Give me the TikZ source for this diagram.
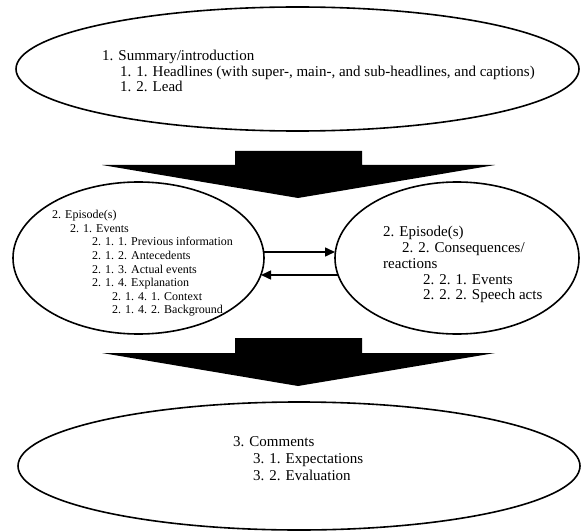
\documentclass[tikz,border=0pt]{standalone}
\usepackage{fontspec}
\setmainfont{Liberation Serif}
\usetikzlibrary{shapes.geometric,arrows.meta}
\begin{document}
\begin{tikzpicture}[x=1pt,y=-1pt,
  oval/.style={draw, line width=1.6pt, ellipse, inner sep=0pt, outer sep=0pt},
  bigtext/.style={anchor=base west, inner sep=0pt, font=\fontsize{15}{18}\selectfont},
  smalltext/.style={anchor=base west, inner sep=0pt, font=\fontsize{12}{14}\selectfont},
  link/.style={line width=1.5pt, -{Triangle[length=10pt,width=9pt]}},
  blockarrow/.style={fill=black}]
\useasboundingbox (0,0) rectangle (581,532);

% ellipses
\node[oval, minimum width=563pt, minimum height=124pt] (top) at (297.5,69) {};
\node[oval, minimum width=251pt, minimum height=152pt] (L) at (138.5,258) {};
\node[oval, minimum width=244pt, minimum height=152pt] (R) at (457,258) {};
\node[oval, minimum width=562pt, minimum height=128pt] (bot) at (299,466) {};

% block arrows
\fill[blockarrow] (235,151) -- (362,151) -- (362,165) -- (495,165) -- (298,198) -- (102,165) -- (235,165) -- cycle;
\fill[blockarrow] (235,338) -- (362,338) -- (362,353) -- (495,353) -- (298,386) -- (102,353) -- (235,353) -- cycle;

% connectors between the episode ellipses
\draw[link] ([yshift=6pt,xshift=-0.5pt]L.east) -- ([yshift=6pt]R.west);
\draw[link] ([yshift=-17pt,xshift=3pt]R.west) -- ([yshift=-17pt,xshift=-3pt]L.east);

% top text
\node[bigtext] (t1) at (102,61) {1. Summary/introduction};
\node[bigtext] (t2) at (120,76.5) {1. 1. Headlines (with super-, main-, and sub-headlines, and captions)};
\node[bigtext] (t3) at (120,92) {1. 2. Lead};

% left text
\node[smalltext] (l1) at (52,218.5) {2. Episode(s)};
\node[smalltext] (l2) at (70,232) {2. 1. Events};
\node[smalltext] (l3) at (92,245.7) {2. 1. 1. Previous information};
\node[smalltext] (l4) at (92,259.3) {2. 1. 2. Antecedents};
\node[smalltext] (l5) at (92,273) {2. 1. 3. Actual events};
\node[smalltext] (l6) at (92,286.5) {2. 1. 4. Explanation};
\node[smalltext] (l7) at (112,300) {2. 1. 4. 1. Context};
\node[smalltext] (l8) at (112,313.7) {2. 1. 4. 2. Background};

% right text
\node[bigtext] (r1) at (383,236.5) {2. Episode(s)};
\node[bigtext] (r2) at (402,252) {2. 2. Consequences/};
\node[bigtext] (r3) at (383,268) {reactions};
\node[bigtext] (r4) at (423,284) {2. 2. 1. Events};
\node[bigtext] (r5) at (423,299.5) {2. 2. 2. Speech acts};

% bottom text
\node[bigtext] (b1) at (233,446.5) {3. Comments};
\node[bigtext] (b2) at (253,463) {3. 1. Expectations};
\node[bigtext] (b3) at (253,480) {3. 2. Evaluation};
\end{tikzpicture}
\end{document}
